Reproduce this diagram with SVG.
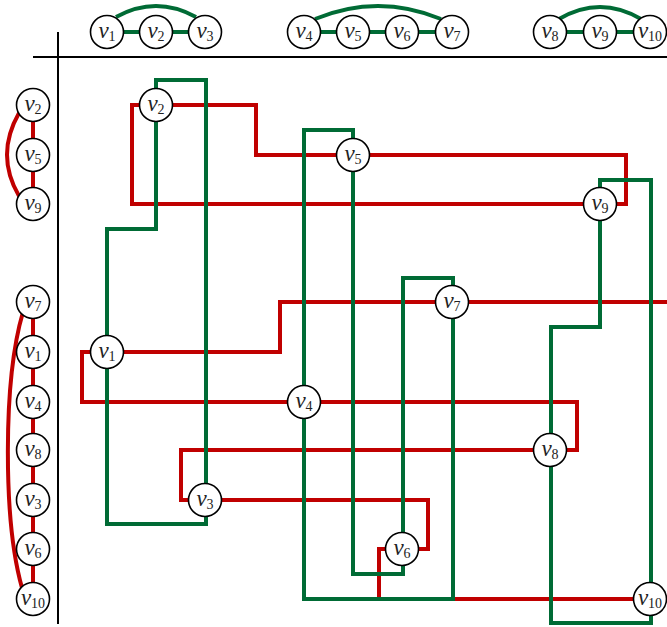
<svg xmlns="http://www.w3.org/2000/svg" width="667" height="627" viewBox="0 0 667 627">
<style>
.r{fill:none;stroke:#c00000;stroke-width:4;stroke-linejoin:miter}
.g{fill:none;stroke:#006b35;stroke-width:4;stroke-linejoin:miter}
.ax{fill:none;stroke:#000;stroke-width:2}
.n circle{fill:#fff;stroke:#000;stroke-width:1.6}
.n text{font-family:"Liberation Serif","DejaVu Serif",serif;font-size:23px;text-anchor:middle;fill:#222}
.n .v{font-style:italic}
.n .s{font-size:14px}
</style>
<rect width="667" height="627" fill="#fff"/>
<g id="axes">
<line class="ax" x1="33" y1="57" x2="667" y2="57"/>
<line class="ax" x1="58" y1="32" x2="58" y2="624"/>
</g>
<g id="connectors">
<path class="g" d="M107,32H205M304,32H452M550,32H650"/>
<path class="g" d="M116,17Q156,-5 196,17"/>
<path class="g" d="M315,19Q378,-7 441,19"/>
<path class="g" d="M559,19Q600,-5 641,19"/>
<path class="r" d="M33,105V204M33,302V599"/>
<path class="r" d="M19,113Q-5,155 19,196"/>
<path class="r" d="M23,312C3,380 3,520 22,588"/>
<path class="r" d="M156,105H256V155H353"/>
<path class="r" d="M156,105H132V204H600"/>
<path class="r" d="M353,155H626V204H600"/>
<path class="r" d="M107,352H280V302H452"/>
<path class="r" d="M452,302H667"/>
<path class="r" d="M107,352H82V402H304"/>
<path class="r" d="M304,402H577V450H550"/>
<path class="r" d="M205,500H181V450H550"/>
<path class="r" d="M205,500H428V549H402"/>
<path class="r" d="M402,549H379V599H650"/>
<path class="g" d="M156,105V229H107V352"/>
<path class="g" d="M156,105V80H206V500"/>
<path class="g" d="M107,352V524H206V500"/>
<path class="g" d="M304,402V130H353V155"/>
<path class="g" d="M353,155V574H403V549"/>
<path class="g" d="M403,549V278H453V302"/>
<path class="g" d="M304,402V599H453V302"/>
<path class="g" d="M600,204V327H551V450"/>
<path class="g" d="M600,204V180H651V599"/>
<path class="g" d="M551,450V623H651V599"/>
</g>
<g id="top-v1" class="n"><circle cx="107" cy="32" r="16.5"/><text x="107" y="38"><tspan class="v">v</tspan><tspan class="s" dy="3">1</tspan></text></g>
<g id="top-v2" class="n"><circle cx="156" cy="32" r="16.5"/><text x="156" y="38"><tspan class="v">v</tspan><tspan class="s" dy="3">2</tspan></text></g>
<g id="top-v3" class="n"><circle cx="205" cy="32" r="16.5"/><text x="205" y="38"><tspan class="v">v</tspan><tspan class="s" dy="3">3</tspan></text></g>
<g id="top-v4" class="n"><circle cx="304" cy="32" r="16.5"/><text x="304" y="38"><tspan class="v">v</tspan><tspan class="s" dy="3">4</tspan></text></g>
<g id="top-v5" class="n"><circle cx="353" cy="32" r="16.5"/><text x="353" y="38"><tspan class="v">v</tspan><tspan class="s" dy="3">5</tspan></text></g>
<g id="top-v6" class="n"><circle cx="402" cy="32" r="16.5"/><text x="402" y="38"><tspan class="v">v</tspan><tspan class="s" dy="3">6</tspan></text></g>
<g id="top-v7" class="n"><circle cx="452" cy="32" r="16.5"/><text x="452" y="38"><tspan class="v">v</tspan><tspan class="s" dy="3">7</tspan></text></g>
<g id="top-v8" class="n"><circle cx="550" cy="32" r="16.5"/><text x="550" y="38"><tspan class="v">v</tspan><tspan class="s" dy="3">8</tspan></text></g>
<g id="top-v9" class="n"><circle cx="600" cy="32" r="16.5"/><text x="600" y="38"><tspan class="v">v</tspan><tspan class="s" dy="3">9</tspan></text></g>
<g id="top-v10" class="n"><circle cx="650" cy="32" r="16.5"/><text x="650" y="38"><tspan class="v">v</tspan><tspan class="s" dy="3">10</tspan></text></g>
<g id="left-v2" class="n"><circle cx="33" cy="105" r="16.5"/><text x="33" y="111"><tspan class="v">v</tspan><tspan class="s" dy="3">2</tspan></text></g>
<g id="left-v5" class="n"><circle cx="33" cy="155" r="16.5"/><text x="33" y="161"><tspan class="v">v</tspan><tspan class="s" dy="3">5</tspan></text></g>
<g id="left-v9" class="n"><circle cx="33" cy="204" r="16.5"/><text x="33" y="210"><tspan class="v">v</tspan><tspan class="s" dy="3">9</tspan></text></g>
<g id="left-v7" class="n"><circle cx="33" cy="302" r="16.5"/><text x="33" y="308"><tspan class="v">v</tspan><tspan class="s" dy="3">7</tspan></text></g>
<g id="left-v1" class="n"><circle cx="33" cy="352" r="16.5"/><text x="33" y="358"><tspan class="v">v</tspan><tspan class="s" dy="3">1</tspan></text></g>
<g id="left-v4" class="n"><circle cx="33" cy="402" r="16.5"/><text x="33" y="408"><tspan class="v">v</tspan><tspan class="s" dy="3">4</tspan></text></g>
<g id="left-v8" class="n"><circle cx="33" cy="450" r="16.5"/><text x="33" y="456"><tspan class="v">v</tspan><tspan class="s" dy="3">8</tspan></text></g>
<g id="left-v3" class="n"><circle cx="33" cy="500" r="16.5"/><text x="33" y="506"><tspan class="v">v</tspan><tspan class="s" dy="3">3</tspan></text></g>
<g id="left-v6" class="n"><circle cx="33" cy="549" r="16.5"/><text x="33" y="555"><tspan class="v">v</tspan><tspan class="s" dy="3">6</tspan></text></g>
<g id="left-v10" class="n"><circle cx="33" cy="599" r="16.5"/><text x="33" y="605"><tspan class="v">v</tspan><tspan class="s" dy="3">10</tspan></text></g>
<g id="v2" class="n"><circle cx="156" cy="105" r="16.5"/><text x="156" y="111"><tspan class="v">v</tspan><tspan class="s" dy="3">2</tspan></text></g>
<g id="v5" class="n"><circle cx="353" cy="155" r="16.5"/><text x="353" y="161"><tspan class="v">v</tspan><tspan class="s" dy="3">5</tspan></text></g>
<g id="v9" class="n"><circle cx="600" cy="204" r="16.5"/><text x="600" y="210"><tspan class="v">v</tspan><tspan class="s" dy="3">9</tspan></text></g>
<g id="v7" class="n"><circle cx="452" cy="302" r="16.5"/><text x="452" y="308"><tspan class="v">v</tspan><tspan class="s" dy="3">7</tspan></text></g>
<g id="v1" class="n"><circle cx="107" cy="352" r="16.5"/><text x="107" y="358"><tspan class="v">v</tspan><tspan class="s" dy="3">1</tspan></text></g>
<g id="v4" class="n"><circle cx="304" cy="402" r="16.5"/><text x="304" y="408"><tspan class="v">v</tspan><tspan class="s" dy="3">4</tspan></text></g>
<g id="v8" class="n"><circle cx="550" cy="450" r="16.5"/><text x="550" y="456"><tspan class="v">v</tspan><tspan class="s" dy="3">8</tspan></text></g>
<g id="v3" class="n"><circle cx="205" cy="500" r="16.5"/><text x="205" y="506"><tspan class="v">v</tspan><tspan class="s" dy="3">3</tspan></text></g>
<g id="v6" class="n"><circle cx="402" cy="549" r="16.5"/><text x="402" y="555"><tspan class="v">v</tspan><tspan class="s" dy="3">6</tspan></text></g>
<g id="v10" class="n"><circle cx="650" cy="599" r="16.5"/><text x="650" y="605"><tspan class="v">v</tspan><tspan class="s" dy="3">10</tspan></text></g>
</svg>
